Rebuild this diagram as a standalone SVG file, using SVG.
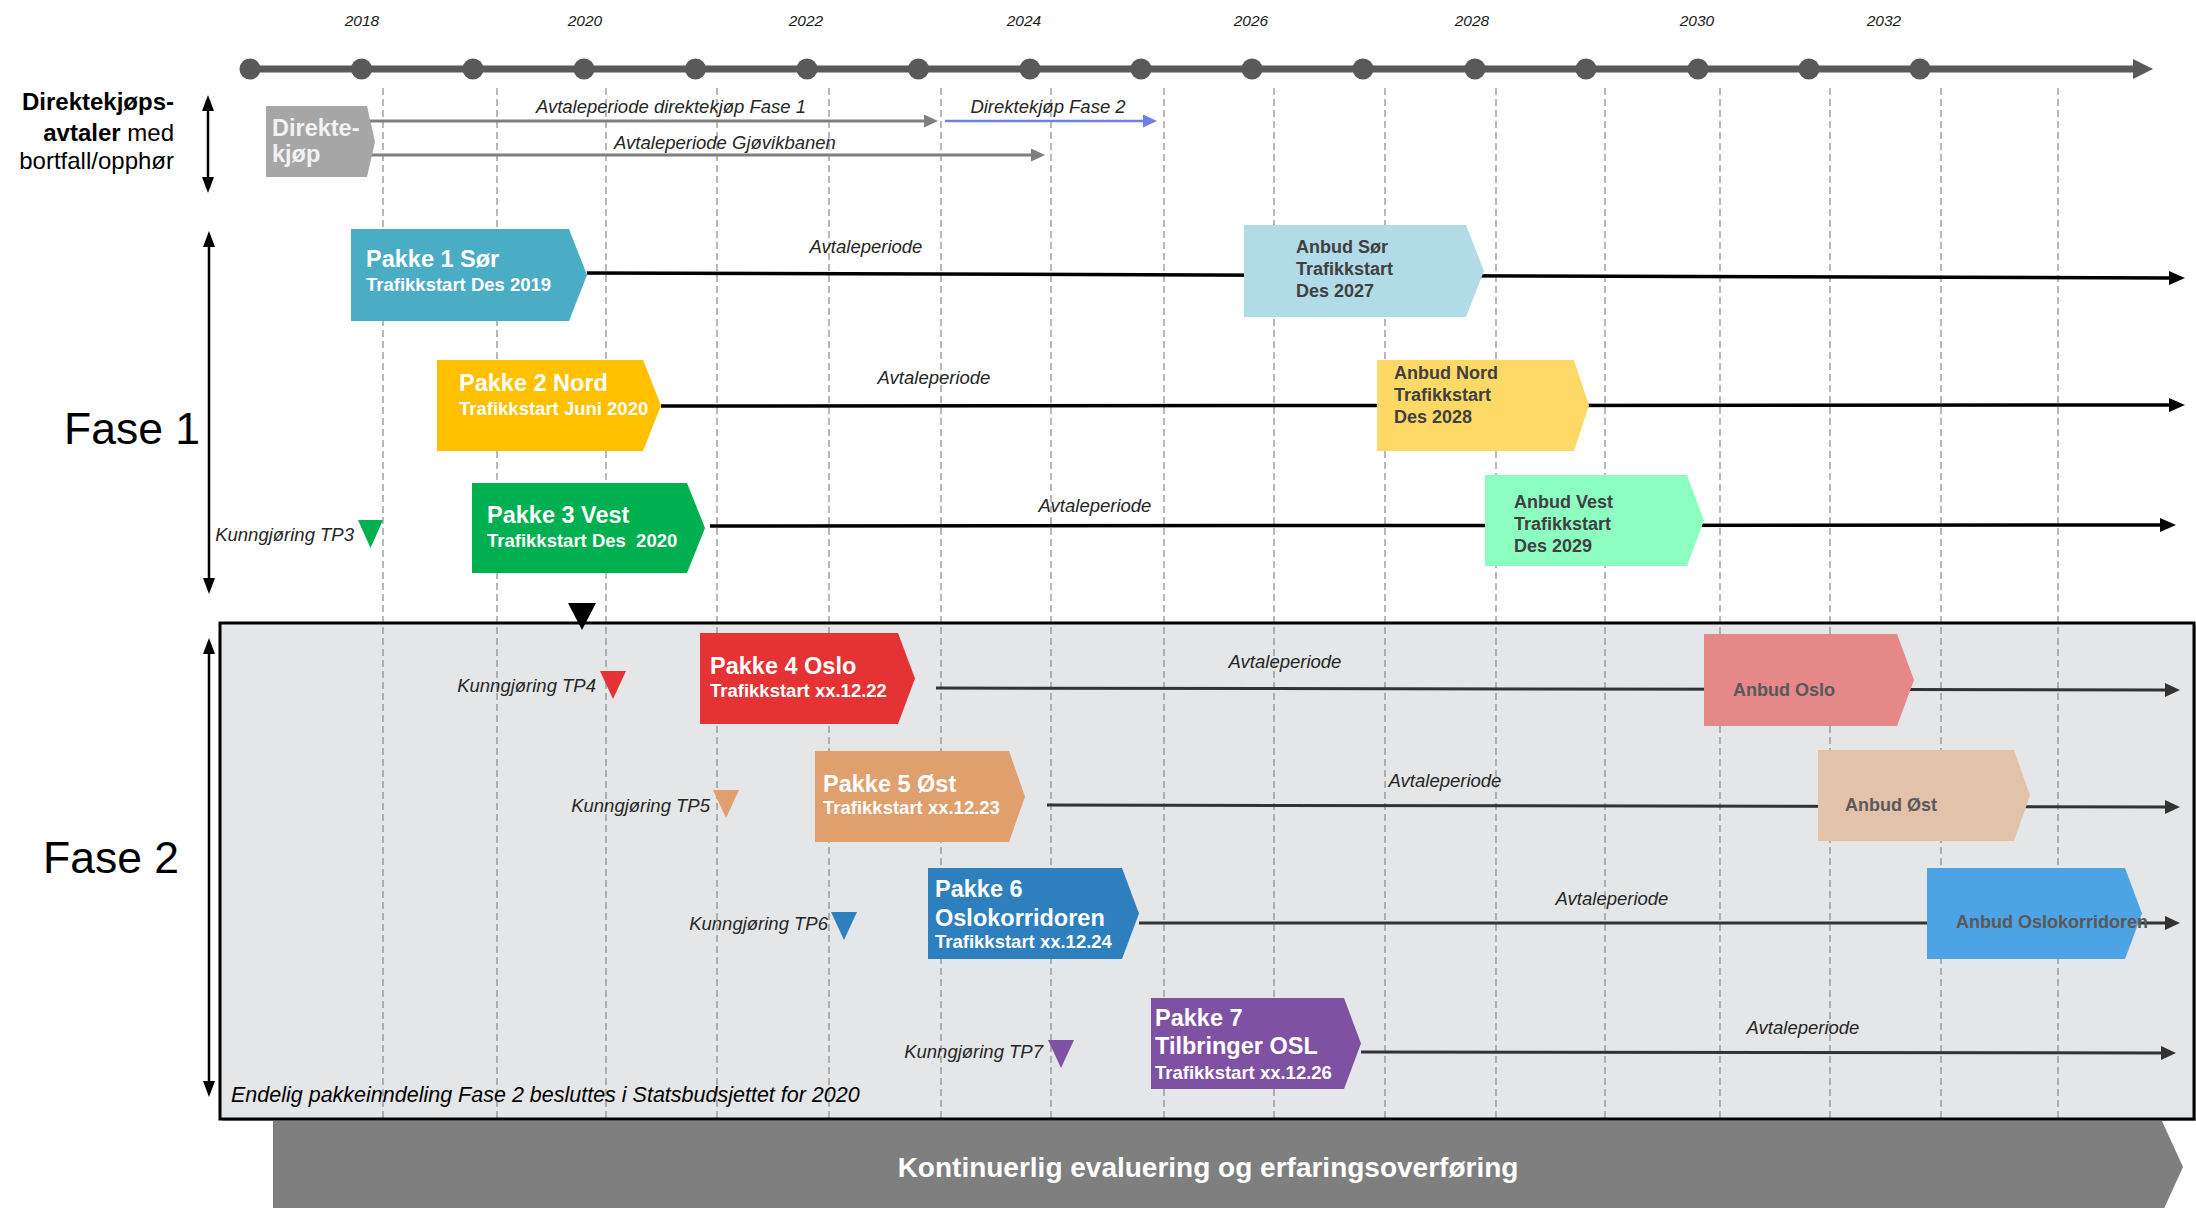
<svg xmlns="http://www.w3.org/2000/svg" width="2196" height="1208" viewBox="0 0 2196 1208">
<style>
text{font-family:"Liberation Sans",Arial,sans-serif}
.yr{font-style:italic;font-size:15.5px;fill:#1a1a1a;text-anchor:middle}
.lbl{font-style:italic;font-size:18.5px;fill:#262626}
.mid{text-anchor:middle}
.end{text-anchor:end}
.ttl{font-weight:bold;font-size:23.5px;fill:#fff}
.sub{font-weight:bold;font-size:18.5px;fill:#fff}
.anb{font-weight:bold;font-size:18px;fill:#404040}
.anb2{font-weight:bold;font-size:18px;fill:#595959}
.dash{stroke:#8a8a8a;stroke-width:1.2;stroke-dasharray:7 4;fill:none}
.lnb{stroke:#000;stroke-width:3.5;fill:none;marker-end:url(#ab)}
.lnd{stroke:#333;stroke-width:3;fill:none;marker-end:url(#ad)}
.vax{stroke:#000;stroke-width:2.5;marker-start:url(#av);marker-end:url(#av)}
.side{font-size:24px;fill:#000}
.fase{font-size:44.5px;fill:#000}
</style>
<defs>
<marker id="ab" viewBox="0 0 16 14" markerWidth="16" markerHeight="14" refX="2" refY="7" orient="auto" markerUnits="userSpaceOnUse"><path d="M0,0 L16,7 L0,14 z" fill="#000"/></marker>
<marker id="ad" viewBox="0 0 15 14" markerWidth="15" markerHeight="14" refX="2" refY="7" orient="auto" markerUnits="userSpaceOnUse"><path d="M0,0 L15,7 L0,14 z" fill="#333"/></marker>
<marker id="ag" viewBox="0 0 14 13" markerWidth="14" markerHeight="13" refX="2" refY="6.5" orient="auto" markerUnits="userSpaceOnUse"><path d="M0,0 L14,6.5 L0,13 z" fill="#7f7f7f"/></marker>
<marker id="abl" viewBox="0 0 14 13" markerWidth="14" markerHeight="13" refX="2" refY="6.5" orient="auto" markerUnits="userSpaceOnUse"><path d="M0,0 L14,6.5 L0,13 z" fill="#6f7fe6"/></marker>
<marker id="av" viewBox="0 0 16 12" markerWidth="16" markerHeight="12" refX="2" refY="6" orient="auto-start-reverse" markerUnits="userSpaceOnUse"><path d="M0,0 L16,6 L0,12 z" fill="#000"/></marker>
</defs>

<rect width="2196" height="1208" fill="#fff"/>

<!-- Fase 2 background -->
<g id="fase2-area">
<rect x="222" y="625" width="1974" height="496" fill="#a6a6a6"/>
<rect x="220" y="623" width="1974" height="496" fill="#e5e6e8"/>
</g>

<!-- dashed grid -->
<g id="grid">
<path class="dash" d="M383,88V1118 M497,88V1118 M606,88V1118 M717,88V1118 M829,88V1118 M941,88V1118 M1051,88V1118 M1164,88V1118 M1274,88V1118 M1385,88V1118 M1496,88V1118 M1605,88V1118 M1720,88V1118 M1830,88V1118 M1941,88V1118 M2058,88V1118"/>
</g>

<g id="fase2-border">
<rect x="220" y="623" width="1974" height="496" fill="none" stroke="#000" stroke-width="3"/>
</g>

<!-- timeline -->
<g id="timeline">
<line x1="245" y1="69" x2="2136" y2="69" stroke="#595959" stroke-width="7"/>
<polygon points="2133,59 2153,69 2133,79" fill="#595959"/>
<g fill="#595959">
<circle cx="250" cy="69" r="10.5"/><circle cx="361.5" cy="69" r="10.5"/><circle cx="473" cy="69" r="10.5"/><circle cx="584" cy="69" r="10.5"/>
<circle cx="695.5" cy="69" r="10.5"/><circle cx="807" cy="69" r="10.5"/><circle cx="918.5" cy="69" r="10.5"/><circle cx="1030" cy="69" r="10.5"/>
<circle cx="1141" cy="69" r="10.5"/><circle cx="1252" cy="69" r="10.5"/><circle cx="1363" cy="69" r="10.5"/><circle cx="1475" cy="69" r="10.5"/>
<circle cx="1586" cy="69" r="10.5"/><circle cx="1698" cy="69" r="10.5"/><circle cx="1809" cy="69" r="10.5"/><circle cx="1920" cy="69" r="10.5"/>
</g>
<text class="yr" x="362" y="26">2018</text>
<text class="yr" x="585" y="26">2020</text>
<text class="yr" x="806" y="26">2022</text>
<text class="yr" x="1024" y="26">2024</text>
<text class="yr" x="1251" y="26">2026</text>
<text class="yr" x="1472" y="26">2028</text>
<text class="yr" x="1697" y="26">2030</text>
<text class="yr" x="1884" y="26">2032</text>
</g>

<!-- left labels -->
<g id="side-labels">
<text class="side end" x="174" y="110" font-weight="bold">Direktekjøps-</text>
<text class="side end" x="174" y="141"><tspan font-weight="bold">avtaler</tspan> med</text>
<text class="side end" x="174" y="169">bortfall/opphør</text>
<text class="fase" x="64" y="444">Fase 1</text>
<text class="fase" x="43" y="873">Fase 2</text>
<text x="231" y="1102" font-style="italic" font-size="21.5px" fill="#000">Endelig pakkeinndeling Fase 2 besluttes i Statsbudsjettet for 2020</text>
</g>

<!-- connectors -->
<g id="connectors">
<line class="vax" x1="208" y1="109" x2="208" y2="179"/>
<line class="vax" x1="209" y1="245" x2="209" y2="580"/>
<line class="vax" x1="209" y1="652" x2="209" y2="1083"/>
<line x1="368" y1="121" x2="926" y2="121" stroke="#7f7f7f" stroke-width="3" marker-end="url(#ag)"/>
<line x1="945" y1="121" x2="1145" y2="121" stroke="#6f7fe6" stroke-width="2.5" marker-end="url(#abl)"/>
<line x1="368" y1="155" x2="1033" y2="155" stroke="#7f7f7f" stroke-width="3" marker-end="url(#ag)"/>
<path class="lnb" d="M587,273 L2171,278"/>
<path class="lnb" d="M661,406 L2171,405"/>
<path class="lnb" d="M710,526 L2162,525"/>
<path class="lnd" d="M936,688 L2167,690"/>
<path class="lnd" d="M1047,805 L2167,807"/>
<path class="lnd" d="M1139,923 L2167,923"/>
<path class="lnd" d="M1361,1052 L2163,1053"/>
<polygon points="568,603 596,603 582,630" fill="#000"/>
</g>

<!-- connector labels -->
<g id="labels">
<text class="lbl mid" x="671" y="113" font-size="19px">Avtaleperiode direktekjøp Fase 1</text>
<text class="lbl mid" x="1048" y="113">Direktekjøp Fase 2</text>
<text class="lbl mid" x="725" y="149">Avtaleperiode Gjøvikbanen</text>
<text class="lbl mid" x="866" y="253">Avtaleperiode</text>
<text class="lbl mid" x="934" y="384">Avtaleperiode</text>
<text class="lbl mid" x="1095" y="512">Avtaleperiode</text>
<text class="lbl mid" x="1285" y="668">Avtaleperiode</text>
<text class="lbl mid" x="1445" y="787">Avtaleperiode</text>
<text class="lbl mid" x="1612" y="905">Avtaleperiode</text>
<text class="lbl mid" x="1803" y="1034">Avtaleperiode</text>
</g>

<!-- Kunngjøring markers -->
<g id="tp3"><text class="lbl end" x="354" y="541">Kunngjøring TP3</text><polygon points="358,520 383,520 370.5,548" fill="#00b050"/></g>
<g id="tp4"><text class="lbl end" x="596" y="692">Kunngjøring TP4</text><polygon points="600,671 626,671 613,699" fill="#e53234"/></g>
<g id="tp5"><text class="lbl end" x="710" y="812">Kunngjøring TP5</text><polygon points="713,790 739,790 726,818" fill="#e0a06e"/></g>
<g id="tp6"><text class="lbl end" x="828" y="930">Kunngjøring TP6</text><polygon points="831,912 857,912 844,940" fill="#2e7fbe"/></g>
<g id="tp7"><text class="lbl end" x="1043" y="1058">Kunngjøring TP7</text><polygon points="1048,1040 1074,1040 1061,1068" fill="#7f51a3"/></g>

<!-- nodes -->
<g id="direktekjop">
<polygon points="266,106 367,106 375,142 367,177 266,177" fill="#a6a6a6"/>
<text x="272" y="136" font-weight="bold" font-size="23.5px" fill="#f2f2f2">Direkte-</text>
<text x="272" y="162" font-weight="bold" font-size="23.5px" fill="#f2f2f2">kjøp</text>
</g>

<g id="pakke1">
<polygon points="351,229 569,229 587,275 569,321 351,321" fill="#4bacc6"/>
<text class="ttl" x="366" y="267">Pakke 1 Sør</text>
<text class="sub" x="366" y="291">Trafikkstart Des 2019</text>
</g>
<g id="pakke2">
<polygon points="437,360 643,360 661,405.5 643,451 437,451" fill="#ffc000"/>
<text class="ttl" x="459" y="391">Pakke 2 Nord</text>
<text class="sub" x="459" y="415">Trafikkstart Juni 2020</text>
</g>
<g id="pakke3">
<polygon points="472,483 687,483 705,528 687,573 472,573" fill="#00b050"/>
<text class="ttl" x="487" y="523">Pakke 3 Vest</text>
<text class="sub" x="487" y="547" xml:space="preserve">Trafikkstart Des  2020</text>
</g>
<g id="anbud-sor">
<polygon points="1244,225 1466,225 1484,271 1466,317 1244,317" fill="#b1dbe6"/>
<text class="anb" x="1296" y="253">Anbud Sør</text>
<text class="anb" x="1296" y="275">Trafikkstart</text>
<text class="anb" x="1296" y="297">Des 2027</text>
</g>
<g id="anbud-nord">
<polygon points="1377,360 1574,360 1589,405.5 1574,451 1377,451" fill="#ffd966"/>
<text class="anb" x="1394" y="379">Anbud Nord</text>
<text class="anb" x="1394" y="401">Trafikkstart</text>
<text class="anb" x="1394" y="423">Des 2028</text>
</g>
<g id="anbud-vest">
<polygon points="1485,475 1687,475 1704,520.5 1687,566 1485,566" fill="#8cffc0"/>
<text class="anb" x="1514" y="508">Anbud Vest</text>
<text class="anb" x="1514" y="530">Trafikkstart</text>
<text class="anb" x="1514" y="552">Des 2029</text>
</g>

<g id="pakke4">
<polygon points="700,633 898,633 915,678.5 898,724 700,724" fill="#e53234"/>
<text class="ttl" x="710" y="674">Pakke 4 Oslo</text>
<text class="sub" x="710" y="697">Trafikkstart xx.12.22</text>
</g>
<g id="pakke5">
<polygon points="815,751 1009,751 1025,796.5 1009,842 815,842" fill="#e0a06e"/>
<text class="ttl" x="823" y="792">Pakke 5 Øst</text>
<text class="sub" x="823" y="814">Trafikkstart xx.12.23</text>
</g>
<g id="pakke6">
<polygon points="928,868 1122,868 1139,913.5 1122,959 928,959" fill="#2e7fbe"/>
<text class="ttl" x="935" y="897">Pakke 6</text>
<text class="ttl" x="935" y="926">Oslokorridoren</text>
<text class="sub" x="935" y="948">Trafikkstart xx.12.24</text>
</g>
<g id="pakke7">
<polygon points="1151,998 1344,998 1361,1043.5 1344,1089 1151,1089" fill="#7f51a3"/>
<text class="ttl" x="1155" y="1026">Pakke 7</text>
<text class="ttl" x="1155" y="1054">Tilbringer OSL</text>
<text class="sub" x="1155" y="1079">Trafikkstart xx.12.26</text>
</g>
<g id="anbud-oslo">
<polygon points="1704,634 1897,634 1914,680 1897,726 1704,726" fill="#e58888"/>
<text class="anb2" x="1733" y="696">Anbud Oslo</text>
</g>
<g id="anbud-ost">
<polygon points="1818,750 2014,750 2030,795.5 2014,841 1818,841" fill="#e2c3a9"/>
<text class="anb2" x="1845" y="811">Anbud Øst</text>
</g>
<g id="anbud-oslokorridoren">
<polygon points="1927,868 2125,868 2142,913.5 2125,959 1927,959" fill="#4da3e4"/>
<text class="anb2" x="1956" y="928">Anbud Oslokorridoren</text>
</g>

<g id="kontinuerlig">
<polygon points="273,1121 2162,1121 2183,1167 2162,1213 273,1213" fill="#7f7f7f"/>
<text x="1208" y="1177" text-anchor="middle" font-weight="bold" font-size="28px" fill="#fff">Kontinuerlig evaluering og erfaringsoverføring</text>
</g>
</svg>
